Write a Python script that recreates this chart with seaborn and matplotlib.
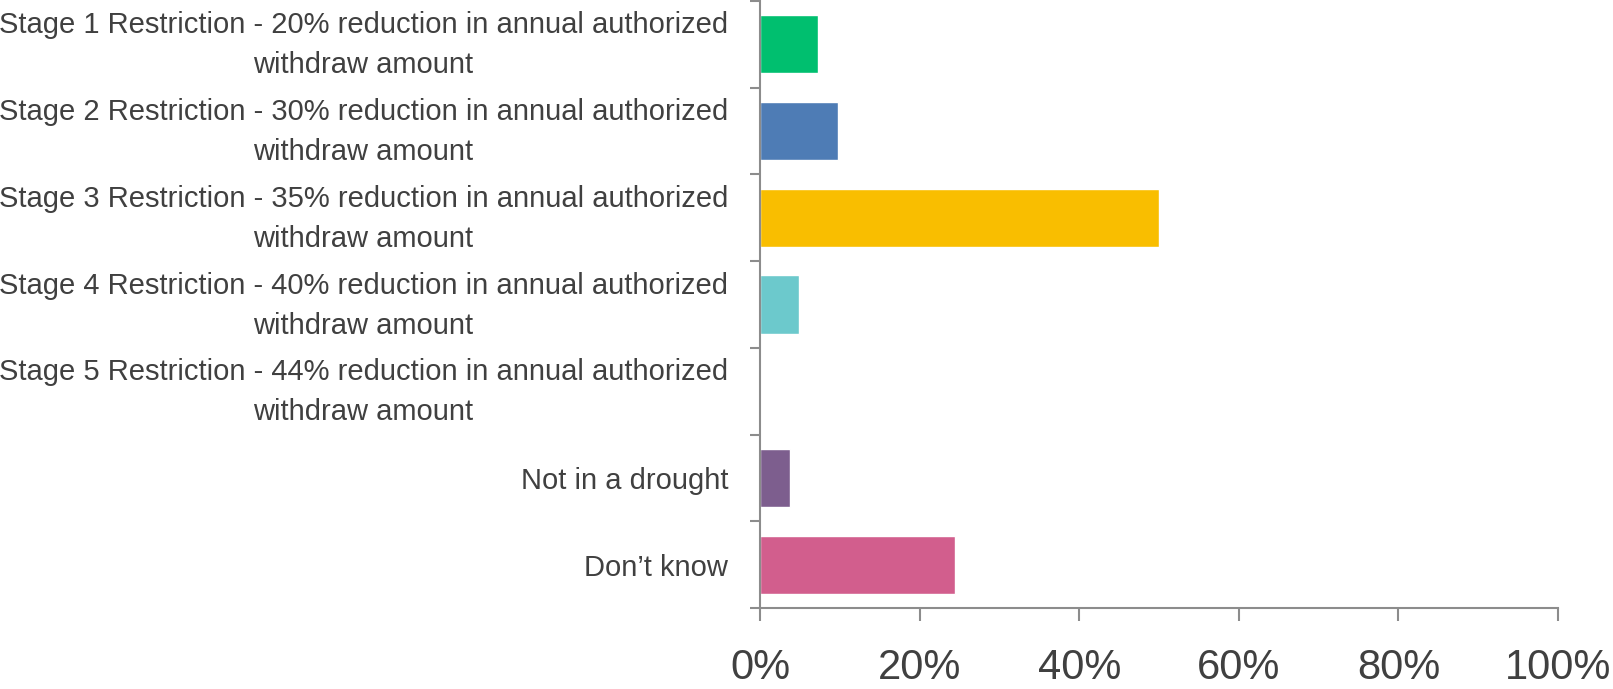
import matplotlib
matplotlib.use("Agg")
import matplotlib.pyplot as plt
import matplotlib.transforms as mtrans
import seaborn as sns
import pandas as pd
import numpy as np
from matplotlib import font_manager as fm
from matplotlib.ticker import FixedLocator, PercentFormatter

categories = [
    "Stage 1 Restriction - 20% reduction in annual authorized\nwithdraw amount",
    "Stage 2 Restriction - 30% reduction in annual authorized\nwithdraw amount",
    "Stage 3 Restriction - 35% reduction in annual authorized\nwithdraw amount",
    "Stage 4 Restriction - 40% reduction in annual authorized\nwithdraw amount",
    "Stage 5 Restriction - 44% reduction in annual authorized\nwithdraw amount",
    "Not in a drought",
    "Don\u2019t know",
]
values = [7.3, 9.8, 50.0, 4.9, 0.0, 3.7, 24.4]
colors = ["#00BF6F", "#4E7CB5", "#F9BE00", "#6CC9CC", "#A0A0A0", "#7D5E8E", "#D25E8D"]
xticks = [0, 20, 40, 60, 80, 100]

sns.set_theme(style="white")
avail = {f.name for f in fm.fontManager.ttflist}
fam = "Liberation Sans Narrow" if "Liberation Sans Narrow" in avail else "Liberation Sans"
plt.rcParams["font.family"] = [fam, "DejaVu Sans"]

df = pd.DataFrame({"cat": categories, "val": values})

fig = plt.figure(figsize=(16.13, 6.89), dpi=100)
ax = fig.add_axes([0.4712, 0.1176, 0.4947, 0.8809])
sns.barplot(data=df, y="cat", x="val", hue="cat", palette=colors, orient="h",
            width=0.67, legend=False, ax=ax, saturation=1)

ax.set_xlim(0, 100)
ax.set_ylim(6.5, -0.5)
ax.set_xlabel("")
ax.set_ylabel("")
ax.xaxis.set_major_locator(FixedLocator(xticks))
ax.xaxis.set_major_formatter(PercentFormatter(decimals=0))

spine_c = "#8C8C8C"
for s in ["top", "right"]:
    ax.spines[s].set_visible(False)
for s in ["left", "bottom"]:
    ax.spines[s].set_color(spine_c)
    ax.spines[s].set_linewidth(1.5)

ax.tick_params(axis="x", which="major", direction="out", length=9, width=1.5,
               color=spine_c, labelsize=30, labelcolor="#404040", pad=20, bottom=True)
ax.yaxis.set_minor_locator(FixedLocator(np.arange(-0.5, 7.0, 1.0)))
ax.tick_params(axis="y", which="minor", direction="out", length=7, width=1.5,
               color=spine_c, left=True)
ax.tick_params(axis="y", which="major", length=0, pad=23, labelsize=21, labelcolor="#404040")
shift = mtrans.ScaledTranslation(0, 8 / 100, fig.dpi_scale_trans)
for lbl in ax.get_yticklabels():
    lbl.set_multialignment("center")
    lbl.set_linespacing(1.55)
    if "\n" in lbl.get_text():
        lbl.set_transform(lbl.get_transform() + shift)

fig.savefig("out.png", dpi=100)
